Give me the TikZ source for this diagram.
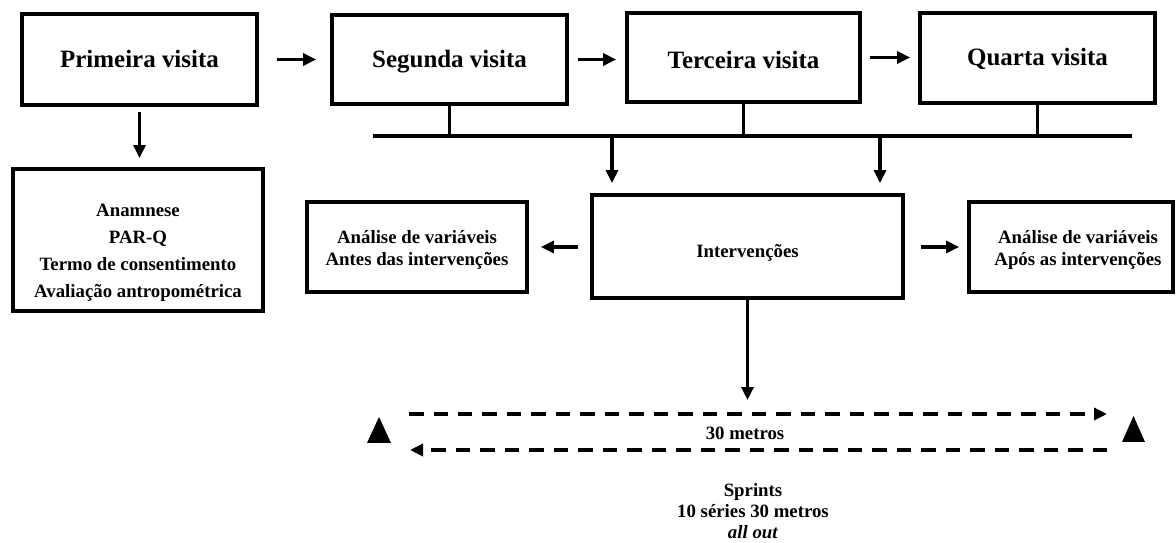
\documentclass[tikz,border=0pt]{standalone}
\usepackage{fontspec}
\setmainfont{Liberation Serif}
\usetikzlibrary{arrows.meta}
\begin{document}
\begin{tikzpicture}[x=0.02cm,y=-0.02cm,
  box/.style={draw,line width=2.2pt,inner sep=0pt,align=center,text height=11pt,text depth=2pt,font=\bfseries\fontsize{14.2}{17}\selectfont},
  sbox/.style={draw,line width=2.2pt,inner sep=0pt,align=center,font=\bfseries\fontsize{10.7}{12.5}\selectfont},
  arr/.style={line width=2.2pt,-{Triangle[length=2.6mm,width=2.4mm]}},
  ln/.style={line width=2.2pt},
  dsh/.style={line width=2.3pt,dash pattern=on 0.29cm off 0.2cm,-{Triangle[length=2.6mm,width=2.4mm]}},
  lbl/.style={font=\bfseries\fontsize{10.7}{12.5}\selectfont,align=center}]
\useasboundingbox (0,0) rectangle (1176,543);
% top row
\node[box,minimum width=4.7cm,minimum height=1.82cm] (p1) at (139.5,59.5) {Primeira visita};
\node[box,minimum width=4.7cm,minimum height=1.78cm] (p2) at (449.5,59.5) {Segunda visita};
\node[box,minimum width=4.66cm,minimum height=1.78cm,
  label={[font=\bfseries\fontsize{14.2}{17}\selectfont,yshift=-0.05cm]center:Terceira visita}] (p3) at (743.5,57.5) {};
\node[box,minimum width=4.7cm,minimum height=1.8cm] (p4) at (1037.5,58) {Quarta visita};
% lower boxes
\node[sbox,minimum width=5cm,minimum height=2.84cm,
  label={[lbl,font=\bfseries\fontsize{10.7}{15.4}\selectfont,yshift=-0.26cm]center:{Anamnese\\PAR-Q\\Termo de consentimento\\Avaliação antropométrica}}] (an) at (138,240) {};
\node[sbox,minimum width=4.4cm,minimum height=1.8cm,
  label={[lbl,yshift=-0.05cm]center:{Análise de variáveis\\Antes das intervenções}}] (av) at (417,247) {};
\node[sbox,minimum width=6.22cm,minimum height=2.06cm,
  label={[lbl,yshift=-0.13cm]center:Intervenções}] (iv) at (747.5,246.5) {};
\node[sbox,minimum width=4.08cm,minimum height=1.8cm,
  label={[lbl,xshift=0.14cm,yshift=-0.05cm]center:{Análise de variáveis\\Após as intervenções}}] (ap) at (1071,247) {};
% horizontal arrows
\draw[arr,shorten <=0.36cm,shorten >=0.28cm] (p1.east) -- (p2.west |- p1.east);
\draw[arr,shorten <=0.18cm,shorten >=0.18cm] (p2.east) -- (p3.west |- p2.east);
\draw[arr,shorten <=0.16cm,shorten >=0.16cm] (p3.east) -- (p4.west |- p3.east);
\draw[arr,shorten <=0.1cm,shorten >=0.18cm] (p1.south) -- (p1.south |- an.north);
% bus
\coordinate (busL) at (373,136);
\coordinate (busR) at (1132,136);
\draw[ln] (busL) -- (busR);
\draw[ln] (p2.south) -- (p2.south |- busL);
\draw[ln] (p3.south) -- (p3.south |- busL);
\draw[ln] (p4.south) -- (p4.south |- busL);
\coordinate (d1) at (612,136);
\coordinate (d2) at (880,136);
\draw[arr,shorten >=0.2cm] (d1) -- (d1 |- iv.north);
\draw[arr,shorten >=0.2cm] (d2) -- (d2 |- iv.north);
% side arrows
\draw[arr,shorten <=0.24cm,shorten >=0.24cm] (iv.west |- av.east) -- (av.east);
\draw[arr,shorten <=0.32cm,shorten >=0.16cm] (iv.east |- ap.west) -- (ap.west);
% down to sprints
\coordinate (tip) at (747.5,400);
\draw[arr] (iv.south) -- (tip);
% dashed runs
\coordinate (r1s) at (409,414);
\coordinate (r1e) at (1107,414);
\coordinate (r2s) at (1107,450);
\coordinate (r2e) at (410,450);
\draw[dsh] (r1s) -- (r1e);
\draw[dsh] (r2s) -- (r2e);
% cones
\fill (367,443) -- (379,417) -- (391,443) -- cycle;
\fill (1122,442) -- (1133.5,416) -- (1145,442) -- cycle;
% labels
\node[lbl] (m30) at (745,433) {30 metros};
\node[lbl,font=\bfseries\fontsize{10.7}{12}\selectfont] (spr) at (753,511) {Sprints\\10 séries 30 metros\\\textit{all out}};
\end{tikzpicture}
\end{document}
